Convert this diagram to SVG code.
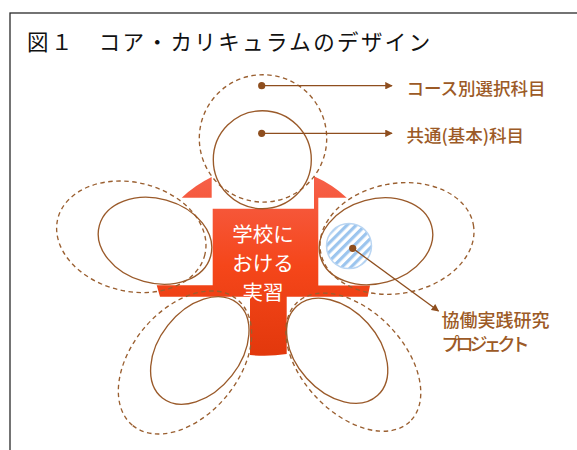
<svg xmlns="http://www.w3.org/2000/svg" width="577" height="450" viewBox="0 0 577 450">
  <defs>
    <linearGradient id="redGrad" gradientUnits="userSpaceOnUse" x1="0" y1="176" x2="0" y2="356">
      <stop offset="0" stop-color="#F6604A"/>
      <stop offset="0.5" stop-color="#F5461A"/>
      <stop offset="1" stop-color="#E2380C"/>
    </linearGradient>
    <pattern id="hatch" patternUnits="userSpaceOnUse" width="6.5" height="6.5" patternTransform="rotate(45)">
      <rect x="0" y="0" width="3.2" height="6.5" fill="#9CC5EE"/>
    </pattern>
    <marker id="arr" viewBox="0 0 10 10" refX="9" refY="5" markerWidth="8.5" markerHeight="7.5" markerUnits="userSpaceOnUse" orient="auto">
      <path d="M0,0 L10,5 L0,10 Z" fill="#8E4E1E"/>
    </marker>
    <style>
      .solid { fill: none; stroke: #9A5A2A; stroke-width: 1.35; }
      .dash { fill: none; stroke: #9A5F30; stroke-width: 1.35; stroke-dasharray: 4.5 3.5; }
      .lbl { font-family: "Noto Sans CJK JP", "Noto Sans", sans-serif; fill: #9C5A26; font-weight: 500; }
      .conn { stroke: #8E4E1E; stroke-width: 1.3; fill: none; }
      .dot { fill: #8E4E1E; }
    </style>
  </defs>

  <rect width="577" height="450" fill="#ffffff"/>
  <rect id="frame" x="10" y="13" width="600" height="470" fill="none" stroke="#2a2a2a" stroke-width="1.3"/>

  <text id="title" x="27" y="49.5" font-family="'Noto Sans CJK JP', 'Noto Sans', sans-serif" font-size="21.5" letter-spacing="2.4" fill="#111">図１　コア・カリキュラムのデザイン</text>

  <g id="core">
    <path d="M211.7,177 L211.7,197.7 L181.7,197.7 A120,120 0 0 1 211.7,177 Z" fill="url(#redGrad)"/>
    <path d="M212.7,208.7 L314,208.7 L314,176.3 A120,120 0 0 1 346.7,197.7 L318.3,197.7 L318.3,285.5 L370,285.5 L367.7,296.7 L286.7,296.7 L286.7,354 Q268,357 250,355 L250,296.7 L160,296.7 L156.7,285.3 L212.7,285.3 Z" fill="url(#redGrad)"/>
    <g font-family="'Noto Sans CJK JP', 'Noto Sans', sans-serif" font-size="20.5" fill="#ffffff" text-anchor="middle">
      <text x="263" y="241.5">学校に</text>
      <text x="263" y="270.5">おける</text>
      <text x="263" y="299.5">実習</text>
    </g>
  </g>

  <g id="petal-top">
    <circle class="dash" cx="263" cy="138.4" r="63.7"/>
    <circle class="solid" cx="262.3" cy="159.7" r="49"/>
  </g>
  <g id="petal-left">
    <ellipse class="dash" cx="131.3" cy="236.8" rx="75.7" ry="54.4" transform="rotate(13.6 131.3 236.8)"/>
    <ellipse class="solid" cx="155" cy="240.8" rx="57.7" ry="42.2" transform="rotate(15.5 155 240.8)"/>
  </g>
  <g id="petal-right">
    <ellipse class="dash" cx="397" cy="238.5" rx="77.6" ry="55" transform="rotate(-10.2 397 238.5)"/>
    <ellipse class="solid" cx="376" cy="241.3" rx="57.7" ry="42.2" transform="rotate(-15.5 376 241.3)"/>
    <circle id="project" cx="349" cy="246" r="22.5" fill="url(#hatch)" stroke="#B9D5F2" stroke-width="1.5"/>
  </g>
  <g id="petal-bottom-left">
    <ellipse class="dash" cx="185" cy="362.5" rx="81.9" ry="53.4" transform="rotate(130 185 362.5)"/>
    <ellipse class="solid" cx="199.8" cy="350.5" rx="60.5" ry="40.7" transform="rotate(128.2 199.8 350.5)"/>
  </g>
  <g id="petal-bottom-right">
    <ellipse class="dash" cx="353.3" cy="362.2" rx="82" ry="51" transform="rotate(46.5 353.3 362.2)"/>
    <ellipse class="solid" cx="337.2" cy="350.8" rx="60.2" ry="41.1" transform="rotate(48 337.2 350.8)"/>
  </g>

  <g id="connectors">
    <circle class="dot" cx="261.7" cy="85.7" r="3.6"/>
    <line class="conn" x1="261.7" y1="85.7" x2="392" y2="85.7" marker-end="url(#arr)"/>
    <circle class="dot" cx="261.7" cy="133.3" r="3.6"/>
    <line class="conn" x1="261.7" y1="133.3" x2="392" y2="133.3" marker-end="url(#arr)"/>
    <circle class="dot" cx="352.7" cy="248.3" r="3.6"/>
    <line class="conn" x1="352.7" y1="248.3" x2="438.5" y2="311" marker-end="url(#arr)"/>
  </g>

  <g id="labels">
    <text class="lbl" x="406.5" y="94.5" font-size="17.5">コース別選択科目</text>
    <text class="lbl" x="406.5" y="141.5" font-size="17.5">共通(基本)科目</text>
    <text class="lbl" x="441.5" y="326.5" font-size="18">協働実践研究</text>
    <text class="lbl" x="441.5" y="351" font-size="18" textLength="88" lengthAdjust="spacing">プロジェクト</text>
  </g>
</svg>
